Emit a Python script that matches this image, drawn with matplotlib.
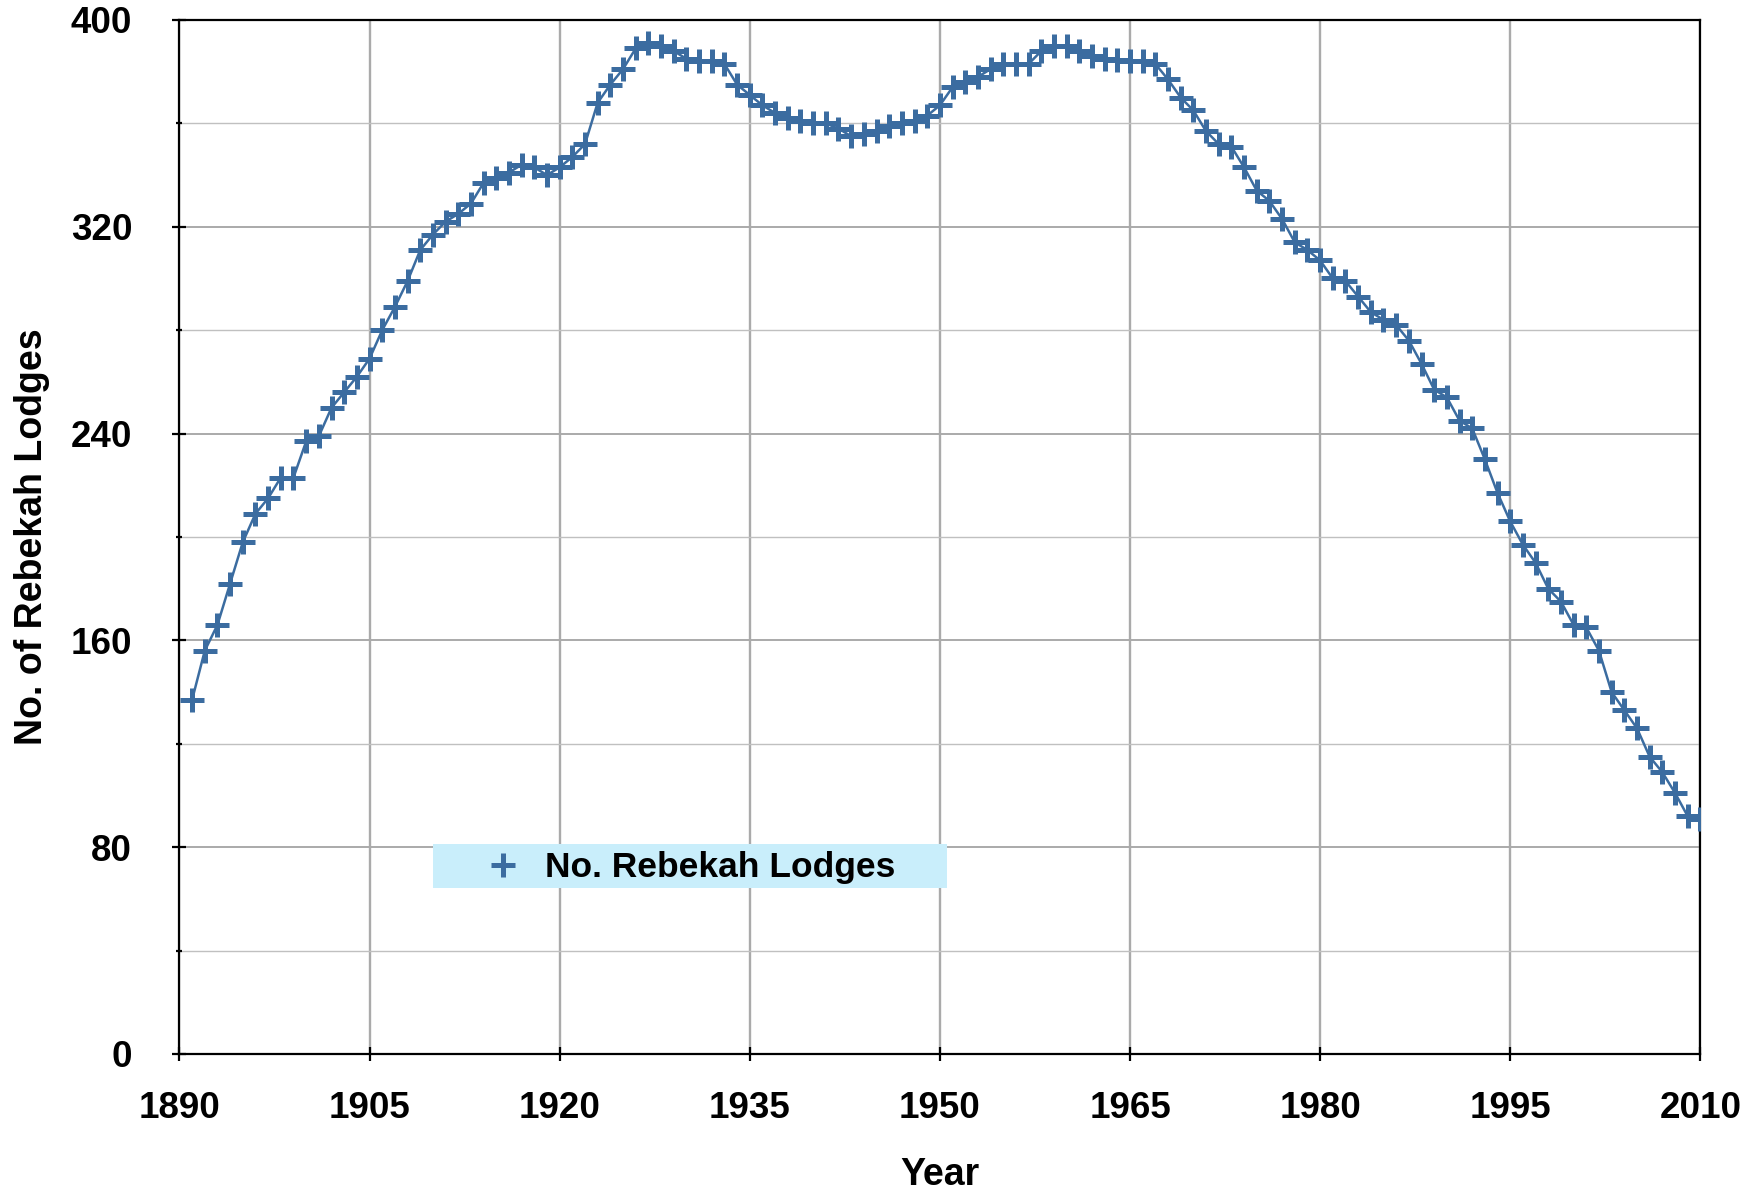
import numpy as np
import matplotlib
matplotlib.use('Agg')
import matplotlib.pyplot as plt
from matplotlib.patches import Rectangle
from matplotlib.lines import Line2D
from matplotlib.ticker import MultipleLocator


years = np.arange(1891, 2011)
lodges = [
    137, 156, 166, 182, 198, 209, 215, 223, 223, 237,   # 1891-1900
    239, 250, 256, 262, 269, 280, 289, 299, 311, 317,   # 1901-1910
    322, 325, 329, 337, 339, 341, 344, 343, 340, 343,   # 1911-1920
    347, 352, 368, 375, 381, 389, 391, 390, 388, 385,   # 1921-1930
    384, 384, 383, 375, 371, 367, 364, 362, 361, 360,   # 1931-1940
    360, 358, 355, 356, 357, 359, 360, 361, 363, 367,   # 1941-1950
    374, 376, 378, 381, 383, 383, 383, 388, 390, 390,   # 1951-1960
    388, 386, 385, 384.5, 384, 384, 383, 377, 370, 365, # 1961-1970
    357, 352, 351, 343, 334, 330, 323, 314, 311, 307,   # 1971-1980
    300, 299, 293, 287, 284, 282, 276, 267, 257, 254,   # 1981-1990
    245, 242, 230, 217, 206, 197, 190, 180, 175, 166,   # 1991-2000
    165, 156, 140, 133, 126, 115, 109, 101, 92, 91,     # 2001-2010
]
series_label = 'No. Rebekah Lodges'
xticks = [1890, 1905, 1920, 1935, 1950, 1965, 1980, 1995, 2010]

plt.rcParams['font.family'] = ['Liberation Sans', 'DejaVu Sans']
plt.rcParams['font.weight'] = 'bold'

blue = '#3b6ca0'
mk = dict(marker='+', ms=17, mew=3.6, color=blue)

fig = plt.figure(figsize=(17.47, 11.90), dpi=100)
ax = fig.add_axes([0.1027, 0.1143, 0.8706, 0.8689])

ax.plot(years, lodges, lw=1.8, zorder=3, **mk)

ax.set_xlim(1890, 2010)
ax.set_ylim(0, 400)
ax.set_xticks(xticks)
ax.yaxis.set_major_locator(MultipleLocator(80))
ax.yaxis.set_minor_locator(MultipleLocator(40))

ax.grid(which='major', axis='x', color='#aaaaaa', lw=1.7)
ax.grid(which='major', axis='y', color='#aaaaaa', lw=1.4)
ax.grid(which='minor', axis='y', color='#c0c0c0', lw=1.0)
ax.set_axisbelow(True)

for s in ax.spines.values():
    s.set_linewidth(1.6)

ax.tick_params(which='major', direction='inout', length=10, width=1.6,
               labelsize=26.5)
ax.tick_params(axis='y', which='major', pad=29)
ax.tick_params(axis='x', which='major', pad=22)
ax.tick_params(axis='y', which='minor', direction='inout', length=5, width=1.6)

ax.set_xlabel('Year', fontsize=27, fontweight='bold', labelpad=22)
ax.set_ylabel('No. of Rebekah Lodges', fontsize=27, fontweight='bold',
              labelpad=15)

# legend box
ax.add_patch(Rectangle((0.167, 0.1605), 0.3377, 0.0426, transform=ax.transAxes,
                       facecolor='#c9eefb', edgecolor='none', zorder=4))
proxy = Line2D([], [], ls='none', **mk)
leg = ax.legend(handles=[proxy], labels=[series_label], loc='center left',
                bbox_to_anchor=(0.201, 0.1800), frameon=False, fontsize=25.5,
                handlelength=1.0, handletextpad=0.68, borderpad=0.0,
                borderaxespad=0.0)
leg.set_zorder(5)

fig.savefig('out.png', dpi=100)
